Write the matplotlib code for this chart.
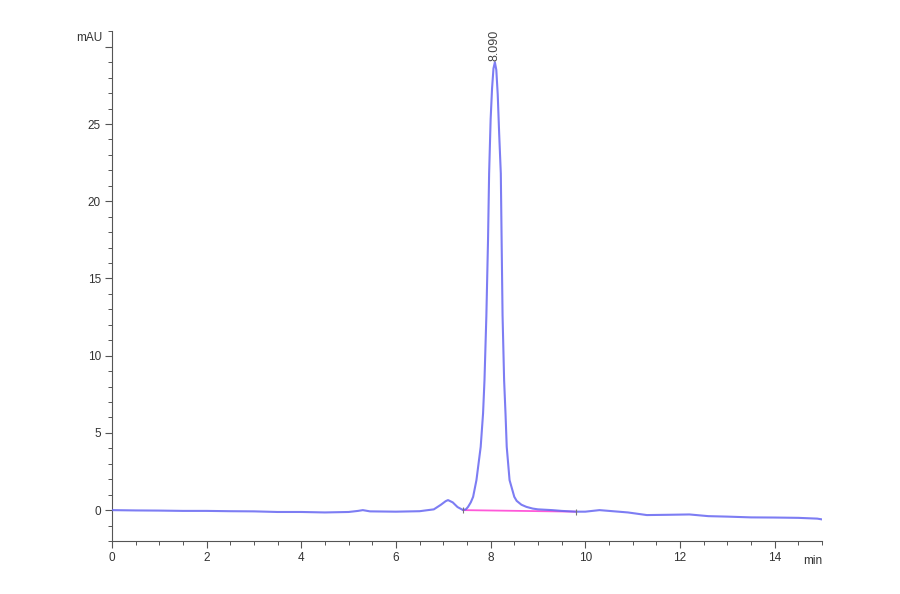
import matplotlib
matplotlib.use("Agg")
import matplotlib.pyplot as plt
from matplotlib.ticker import MultipleLocator, FuncFormatter

plt.rcParams['font.family'] = ['Liberation Sans', 'DejaVu Sans']

# Chromatogram trace (time in min, signal in mAU)
time_min = [0.0, 0.5, 1.0, 1.5, 2.0, 2.5, 3.0, 3.5, 4.0, 4.5, 5.0, 5.2, 5.3, 5.45,
            6.0, 6.5, 6.8, 6.95, 7.05, 7.1, 7.2, 7.3, 7.42, 7.48, 7.523, 7.58,
            7.63, 7.70, 7.79, 7.84, 7.87, 7.91, 7.945, 7.968, 8.0, 8.03, 8.06,
            8.09, 8.12, 8.15, 8.18, 8.215, 8.232, 8.252, 8.285, 8.315, 8.34,
            8.40, 8.50, 8.55, 8.65, 8.756, 8.89, 9.0, 9.3, 9.5, 9.8, 10.0,
            10.3, 10.5, 10.9, 11.3, 11.8, 12.2, 12.6, 13.0, 13.5, 14.0, 14.5,
            14.9, 15.0]
signal_mau = [0.0, -0.02, -0.03, -0.05, -0.05, -0.07, -0.08, -0.12, -0.12, -0.15,
              -0.12, -0.05, 0.0, -0.08, -0.1, -0.07, 0.05, 0.35, 0.58, 0.65,
              0.5, 0.2, 0.0, 0.06, 0.21, 0.5, 0.86, 1.94, 4.1, 6.26, 8.4, 12.6,
              17.5, 21.8, 25.3, 27.3, 28.6, 29.0, 28.5, 26.9, 24.4, 21.8, 17.5,
              12.6, 8.4, 6.2, 4.1, 1.94, 0.86, 0.6, 0.35, 0.21, 0.1, 0.05,
              0.0, -0.05, -0.1, -0.1, 0.0, -0.05, -0.15, -0.32, -0.3, -0.28,
              -0.39, -0.42, -0.47, -0.48, -0.5, -0.55, -0.6]

# Integration baseline of the main peak
baseline_t = [7.42, 9.81]
baseline_y = [0.0, -0.1]

peak_time = 8.09
peak_height = 29.0
peak_label = "8.090"

fig = plt.figure(figsize=(9, 5.94), dpi=100)
ax = fig.add_axes([0.1244, 0.0892, 0.7889, 0.858])

ax.plot(time_min, signal_mau, color=(0.40, 0.40, 0.95), lw=1.5, alpha=0.85,
        solid_joinstyle='round', zorder=3)
ax.plot(baseline_t, baseline_y, color=(1.0, 0.35, 0.85), lw=1.3, zorder=2)
ax.plot(baseline_t, baseline_y, linestyle='none', marker='|', markersize=5,
        color='#777777', mew=0.8, zorder=4)

ax.text(peak_time, peak_height + 0.1, peak_label, rotation=90, ha='center',
        va='bottom', fontsize=9, color='#444444')

ax.set_xlim(0, 15)
ax.set_ylim(-2, 31)
ax.xaxis.set_major_locator(MultipleLocator(2))
ax.xaxis.set_minor_locator(MultipleLocator(0.5))
ax.yaxis.set_major_locator(MultipleLocator(5))
ax.yaxis.set_minor_locator(MultipleLocator(1))
ax.yaxis.set_major_formatter(FuncFormatter(lambda v, p: "" if v >= 30 else f"{v:g}"))

for s in ['top', 'right']:
    ax.spines[s].set_visible(False)
for s in ['left', 'bottom']:
    ax.spines[s].set_color('#555555')
    ax.spines[s].set_linewidth(0.8)

ax.tick_params(which='major', direction='out', length=5, width=0.8,
               color='#555555', labelsize=8.5, labelcolor='#333333', pad=3)
ax.tick_params(which='minor', direction='out', length=3, width=0.7,
               color='#555555')

ax.text(15, -2.9, "min", ha='right', va='top', fontsize=8.5, color='#333333')
ax.text(-0.2, 30.6, "mAU", ha='right', va='center', fontsize=8.5,
        color='#333333')

fig.savefig("out.png", dpi=100)
